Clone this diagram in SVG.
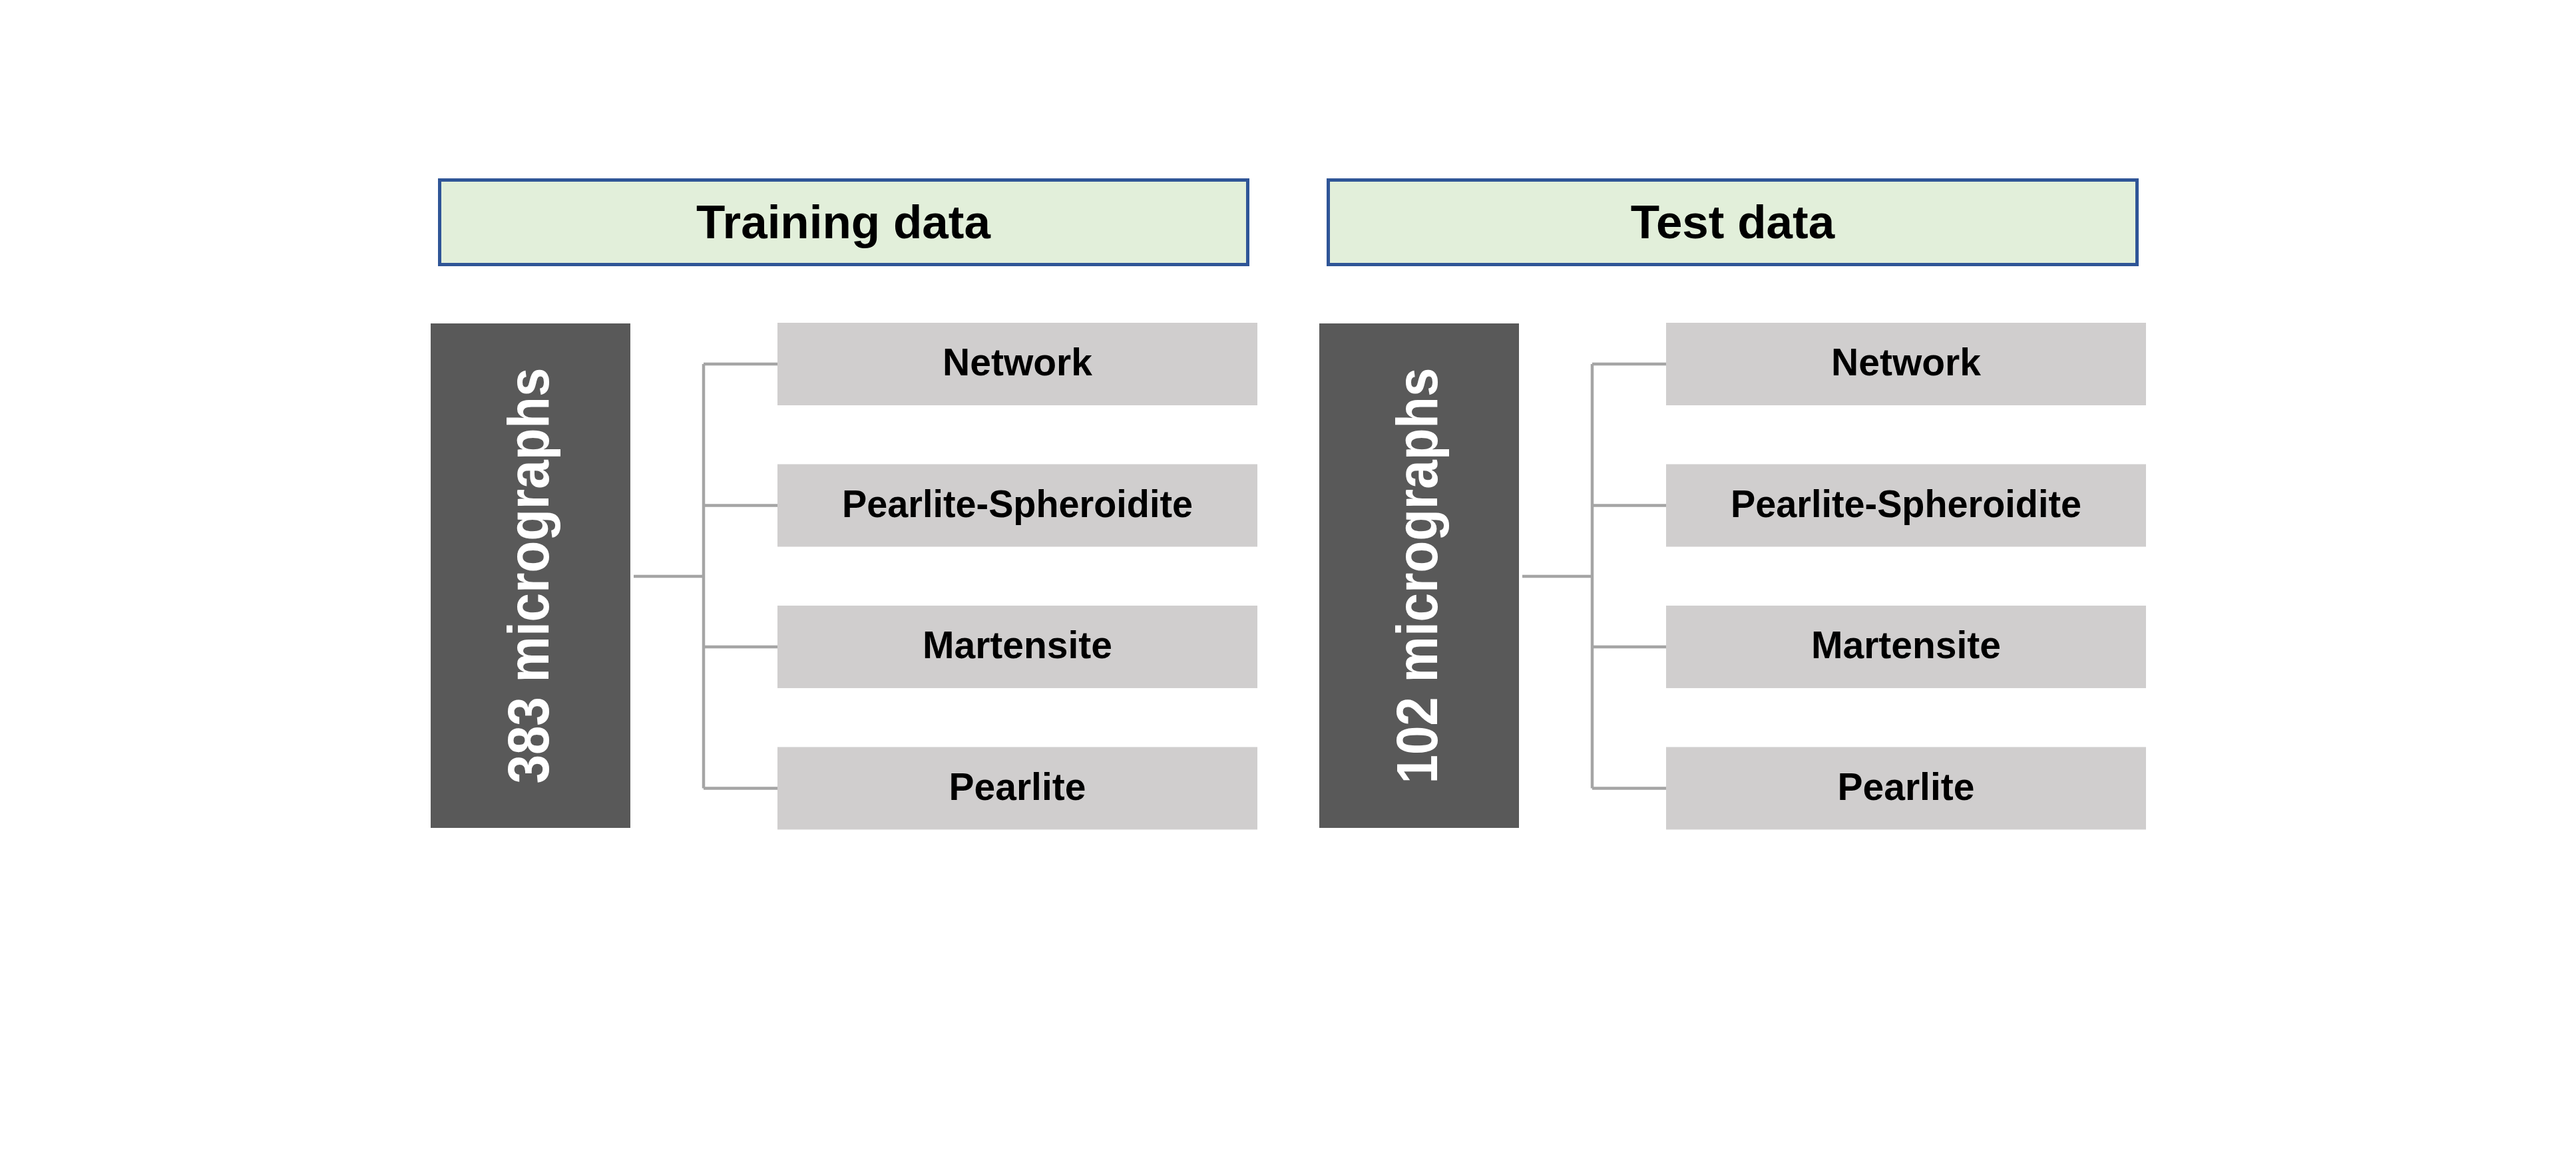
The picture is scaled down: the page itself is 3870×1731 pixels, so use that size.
<svg xmlns="http://www.w3.org/2000/svg" width="3870" height="1731" viewBox="0 0 3870 1731">
<style>
.hdr{fill:#E2EFDA;stroke:#2F5597;stroke-width:5}
.hdrt{font-family:"Liberation Sans",Arial,sans-serif;font-weight:bold;font-size:71px;fill:#000;text-anchor:middle}
.dark{fill:#595959}
.vt{font-family:"Liberation Sans",Arial,sans-serif;font-weight:bold;font-size:88px;fill:#fff;text-anchor:middle}
.item{fill:#D0CECE}
.it{font-family:"Liberation Sans",Arial,sans-serif;font-weight:bold;font-size:57px;fill:#000;text-anchor:middle}
.conn{fill:none;stroke:#A5A5A5;stroke-width:4.5}
</style>
<rect width="3870" height="1731" fill="#fff"/>
<g id="training-header">
<rect class="hdr" x="660.5" y="270.5" width="1214" height="127"/>
<text class="hdrt" x="1267" y="358">Training data</text>
</g>
<g id="test-header">
<rect class="hdr" x="1995.5" y="270.5" width="1215" height="127"/>
<text class="hdrt" x="2603" y="358">Test data</text>
</g>
<g id="train-count">
<rect class="dark" x="647" y="486" width="300" height="758"/>
<text class="vt" transform="translate(824,865) rotate(-90)" textLength="625" lengthAdjust="spacingAndGlyphs">383 micrographs</text>
</g>
<g id="test-count">
<rect class="dark" x="1982" y="486" width="300" height="758"/>
<text class="vt" transform="translate(2159,865) rotate(-90)" textLength="625" lengthAdjust="spacingAndGlyphs">102 micrographs</text>
</g>
<g id="train-network">
<rect class="item" x="1168" y="485" width="721" height="124"/>
<text class="it" x="1528.5" y="564">Network</text>
</g>
<g id="train-pearlite-spheroidite">
<rect class="item" x="1168" y="697.5" width="721" height="124"/>
<text class="it" x="1528.5" y="776.5" textLength="527" lengthAdjust="spacingAndGlyphs">Pearlite-Spheroidite</text>
</g>
<g id="train-martensite">
<rect class="item" x="1168" y="910" width="721" height="124"/>
<text class="it" x="1528.5" y="989">Martensite</text>
</g>
<g id="train-pearlite">
<rect class="item" x="1168" y="1122.5" width="721" height="124"/>
<text class="it" x="1528.5" y="1201.5">Pearlite</text>
</g>
<g id="test-network">
<rect class="item" x="2503" y="485" width="721" height="124"/>
<text class="it" x="2863.5" y="564">Network</text>
</g>
<g id="test-pearlite-spheroidite">
<rect class="item" x="2503" y="697.5" width="721" height="124"/>
<text class="it" x="2863.5" y="776.5" textLength="527" lengthAdjust="spacingAndGlyphs">Pearlite-Spheroidite</text>
</g>
<g id="test-martensite">
<rect class="item" x="2503" y="910" width="721" height="124"/>
<text class="it" x="2863.5" y="989">Martensite</text>
</g>
<g id="test-pearlite">
<rect class="item" x="2503" y="1122.5" width="721" height="124"/>
<text class="it" x="2863.5" y="1201.5">Pearlite</text>
</g>
<g id="connectors">
<path class="conn" d="M952,866 H1057 M1057,547 V1184.5 M1057,547 H1168 M1057,759.5 H1168 M1057,972 H1168 M1057,1184.5 H1168"/>
<path class="conn" d="M2287,866 H2392 M2392,547 V1184.5 M2392,547 H2503 M2392,759.5 H2503 M2392,972 H2503 M2392,1184.5 H2503"/>
</g>
</svg>
